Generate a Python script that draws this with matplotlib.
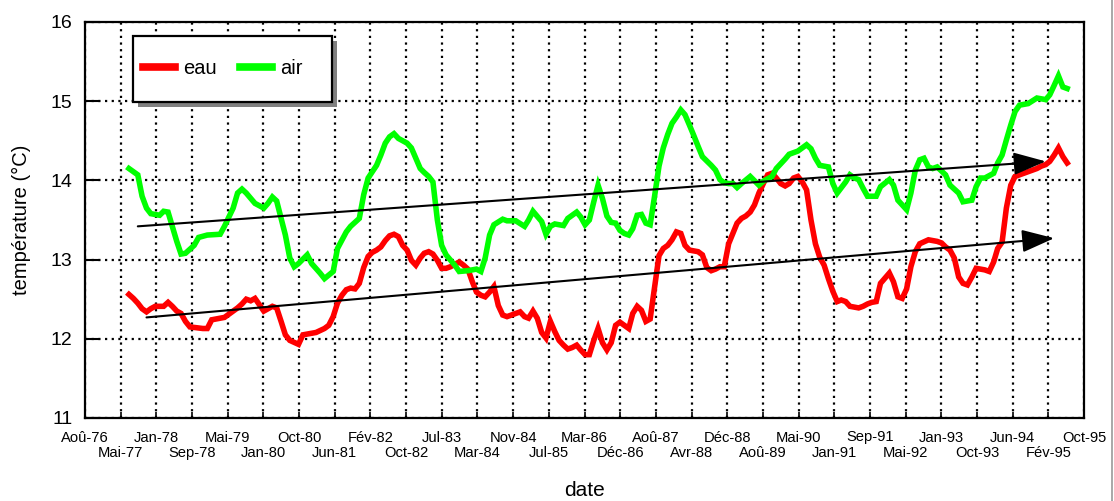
import datetime as dt
import matplotlib
matplotlib.use("Agg")
import matplotlib.pyplot as plt
import matplotlib.dates as mdates
from matplotlib.lines import Line2D
from matplotlib.patches import Rectangle
import pandas as pd

plt.rcParams['font.family'] = ['Liberation Sans', 'DejaVu Sans']

tick_labels = ["Aoû-76", "Mai-77", "Jan-78", "Sep-78", "Mai-79", "Jan-80", "Oct-80",
               "Jun-81", "Fév-82", "Oct-82", "Jul-83", "Mar-84", "Nov-84", "Jul-85",
               "Mar-86", "Déc-86", "Aoû-87", "Avr-88", "Déc-88", "Aoû-89", "Mai-90",
               "Jan-91", "Sep-91", "Mai-92", "Jan-93", "Oct-93", "Jun-94", "Fév-95",
               "Oct-95"]

# months counted from January 1977
air_months = [6, 8, 9, 10, 11, 13, 14, 15, 16, 17, 18, 19, 21, 22, 24, 27, 28, 30, 31, 32,
              33, 35, 37, 38, 39, 40, 41, 42, 43, 44, 45, 47, 48, 50, 51, 53, 54, 56, 57, 59,
              60, 61, 63, 64, 65, 66, 67, 68, 70, 71, 72, 73, 74, 75, 76, 77, 78, 79, 81, 82,
              84, 86, 87, 88, 89, 90, 92, 93, 95, 97, 98, 99, 101, 102, 103, 104, 106, 107, 109, 110,
              111, 112, 113, 114, 115, 116, 117, 118, 119, 120, 121, 122, 123, 124, 125, 126, 127, 128, 129, 130,
              131, 132, 133, 134, 135, 136, 137, 138, 140, 141, 142, 143, 144, 145, 146, 147, 149, 151, 152, 154,
              155, 157, 158, 160, 162, 163, 164, 165, 167, 168, 169, 171, 172, 173, 174, 175, 176, 178, 179, 181,
              182, 183, 185, 186, 187, 188, 189, 190, 191, 192, 194, 195, 197, 198, 200, 201, 202, 203, 205, 206,
              207, 208, 209, 210, 211, 213, 215, 217, 218, 219, 220, 221, 222]
air_values = [14.15, 14.07, 13.80, 13.65, 13.58, 13.56, 13.61, 13.60, 13.42, 13.23, 13.07, 13.08, 13.18, 13.28, 13.31, 13.32, 13.42, 13.65, 13.84, 13.89,
              13.84, 13.71, 13.65, 13.71, 13.79, 13.74, 13.52, 13.31, 13.02, 12.91, 12.95, 13.06, 12.95, 12.83, 12.76, 12.85, 13.14, 13.35, 13.42, 13.52,
              13.82, 14.03, 14.19, 14.32, 14.47, 14.55, 14.59, 14.53, 14.47, 14.41, 14.28, 14.15, 14.10, 14.05, 13.98, 13.50, 13.18, 13.06, 12.93, 12.85,
              12.86, 12.88, 12.85, 13.02, 13.31, 13.44, 13.51, 13.49, 13.49, 13.42, 13.50, 13.61, 13.48, 13.32, 13.42, 13.45, 13.43, 13.52, 13.60, 13.54,
              13.44, 13.50, 13.73, 13.94, 13.77, 13.55, 13.47, 13.46, 13.37, 13.33, 13.31, 13.39, 13.56, 13.57, 13.46, 13.44, 13.80, 14.18, 14.41, 14.58,
              14.72, 14.80, 14.89, 14.83, 14.70, 14.57, 14.43, 14.30, 14.19, 14.13, 14.01, 13.97, 13.96, 13.96, 13.91, 13.96, 14.05, 13.94, 13.99, 14.05,
              14.15, 14.27, 14.33, 14.37, 14.45, 14.40, 14.28, 14.19, 14.17, 13.96, 13.84, 13.98, 14.07, 14.03, 14.01, 13.90, 13.80, 13.80, 13.92, 14.01,
              13.94, 13.75, 13.63, 13.84, 14.13, 14.26, 14.28, 14.17, 14.15, 14.17, 14.07, 13.94, 13.84, 13.73, 13.75, 13.92, 14.03, 14.03, 14.09, 14.22,
              14.32, 14.51, 14.70, 14.87, 14.95, 14.97, 15.04, 15.02, 15.08, 15.20, 15.32, 15.18, 15.16]

eau_months = [6, 7, 8, 9, 10, 11, 12, 13, 14, 15, 16, 17, 18, 19, 20, 23, 24, 25, 26, 27,
              28, 29, 31, 32, 33, 34, 35, 36, 37, 39, 40, 41, 42, 43, 45, 46, 48, 49, 51, 52,
              53, 54, 55, 56, 57, 58, 59, 60, 61, 62, 63, 64, 65, 66, 67, 68, 69, 70, 71, 72,
              73, 74, 75, 76, 77, 78, 79, 80, 81, 82, 83, 84, 85, 86, 87, 88, 89, 90, 91, 92,
              93, 94, 96, 97, 98, 99, 100, 101, 102, 103, 104, 105, 106, 107, 108, 109, 110, 111, 112, 113,
              114, 115, 116, 117, 118, 119, 121, 122, 123, 124, 125, 126, 127, 128, 129, 130, 131, 132, 133, 134,
              135, 137, 138, 139, 140, 141, 142, 143, 144, 146, 147, 148, 149, 150, 151, 152, 153, 154, 155, 156,
              157, 158, 159, 160, 161, 162, 163, 164, 165, 166, 167, 168, 169, 170, 171, 172, 173, 174, 175, 176,
              177, 178, 179, 181, 182, 183, 184, 185, 186, 187, 188, 190, 191, 192, 193, 194, 195, 196, 197, 198,
              199, 200, 201, 202, 203, 204, 205, 206, 207, 208, 209, 210, 212, 213, 215, 216, 217, 218, 219, 220,
              221, 222]
eau_values = [12.56, 12.51, 12.45, 12.38, 12.34, 12.38, 12.41, 12.41, 12.41, 12.46, 12.41, 12.35, 12.32, 12.22, 12.15, 12.13, 12.13, 12.24, 12.25, 12.26,
              12.27, 12.31, 12.39, 12.44, 12.50, 12.48, 12.51, 12.43, 12.35, 12.41, 12.39, 12.22, 12.05, 11.98, 11.93, 12.05, 12.07, 12.08, 12.13, 12.17,
              12.28, 12.45, 12.55, 12.62, 12.64, 12.63, 12.70, 12.90, 13.04, 13.09, 13.12, 13.16, 13.24, 13.30, 13.32, 13.29, 13.18, 13.12, 12.99, 12.93,
              13.02, 13.08, 13.10, 13.07, 12.99, 12.89, 12.89, 12.91, 12.94, 12.97, 12.93, 12.88, 12.72, 12.59, 12.55, 12.53, 12.59, 12.66, 12.42, 12.30,
              12.28, 12.30, 12.34, 12.28, 12.26, 12.35, 12.26, 12.08, 12.01, 12.22, 12.09, 11.98, 11.92, 11.87, 11.89, 11.92, 11.86, 11.80, 11.80, 11.98,
              12.13, 11.95, 11.86, 11.95, 12.17, 12.21, 12.13, 12.32, 12.41, 12.36, 12.22, 12.25, 12.65, 13.05, 13.14, 13.18, 13.25, 13.35, 13.33, 13.18,
              13.12, 13.10, 13.06, 12.90, 12.86, 12.88, 12.91, 12.91, 13.20, 13.46, 13.52, 13.55, 13.60, 13.69, 13.84, 13.96, 14.07, 14.09, 14.03, 13.96,
              13.93, 13.96, 14.03, 14.05, 13.98, 13.88, 13.50, 13.20, 13.03, 12.93, 12.76, 12.60, 12.47, 12.49, 12.47, 12.41, 12.40, 12.39, 12.41, 12.44,
              12.46, 12.47, 12.70, 12.83, 12.72, 12.53, 12.51, 12.63, 12.91, 13.10, 13.20, 13.25, 13.24, 13.23, 13.21, 13.16, 13.12, 13.02, 12.78, 12.70,
              12.68, 12.78, 12.89, 12.88, 12.87, 12.85, 12.97, 13.14, 13.22, 13.65, 13.94, 14.05, 14.09, 14.11, 14.15, 14.18, 14.20, 14.24, 14.32, 14.41,
              14.30, 14.22]

trend_air_months = [8, 217]
trend_air_values = [13.42, 14.24]
trend_eau_months = [10, 219]
trend_eau_values = [12.27, 13.27]


def to_num(months):
    base = pd.Timestamp("1977-01-01")
    return mdates.date2num([(base + pd.DateOffset(months=int(m))).to_pydatetime() for m in months])


axis_start = mdates.date2num(dt.datetime(1976, 8, 27))
tick_step = 250.0
tick_pos = [axis_start + tick_step * k for k in range(len(tick_labels))]

W, H = 1114, 501
fig = plt.figure(figsize=(W / 100, H / 100), dpi=100)
ax = fig.add_axes([85 / W, 1 - 418 / H, 999 / W, 396 / H])

ax.plot(to_num(eau_months), eau_values, color="#ff0000", lw=4.0, solid_joinstyle="miter", label="eau", zorder=3)
ax.plot(to_num(air_months), air_values, color="#00ff00", lw=4.0, solid_joinstyle="miter", label="air", zorder=3)

for tm, tv in ((trend_air_months, trend_air_values), (trend_eau_months, trend_eau_values)):
    xs = to_num(tm)
    ax.annotate("", xy=(xs[1], tv[1]), xytext=(xs[0], tv[0]),
                arrowprops=dict(arrowstyle="-|>,head_length=2.0,head_width=0.7",
                                mutation_scale=10, color="black", lw=1.5,
                                shrinkA=0, shrinkB=0), zorder=4)

ax.set_xlim(tick_pos[0], tick_pos[-1])
ax.set_ylim(11, 16)
ax.set_yticks([11, 12, 13, 14, 15, 16])

ax.set_xticks(tick_pos[0::2])
ax.set_xticklabels(tick_labels[0::2])
ax.set_xticks(tick_pos[1::2], minor=True)
ax.set_xticklabels(tick_labels[1::2], minor=True)

ax.tick_params(axis="x", which="major", direction="in", length=4, width=1.2,
               labelsize=10.6, pad=9)
ax.tick_params(axis="x", which="minor", direction="in", length=4, width=1.2,
               labelsize=10.6, pad=20)
ax.tick_params(axis="y", direction="in", length=11, width=1.5, labelsize=14, pad=9)

ax.grid(True, which="both", axis="x", color="black", linestyle=(0, (1.0, 2.0)), lw=1.6)
ax.grid(True, which="major", axis="y", color="black", linestyle=(0, (1.0, 2.0)), lw=1.6)
ax.set_axisbelow(True)

for s in ax.spines.values():
    s.set_linewidth(1.6)
    s.set_color("black")

ax.set_ylabel("température (°C)", fontsize=14.5, labelpad=14)
ax.set_xlabel("date", fontsize=15, labelpad=15)

# legend box with shadow (pixel layout of the reference)
def ax_x(px):
    return (px - 85) / 999


def ax_y(py):
    return (418 - py) / 396


ax.add_patch(Rectangle((ax_x(138), ax_y(107)), ax_x(337) - ax_x(138), ax_y(41) - ax_y(107),
                       transform=ax.transAxes, facecolor="#808080", edgecolor="none", zorder=5))
ax.add_patch(Rectangle((ax_x(133), ax_y(102)), ax_x(332) - ax_x(133), ax_y(36) - ax_y(102),
                       transform=ax.transAxes, facecolor="white", edgecolor="black", lw=1.6, zorder=6))
leg = ax.legend(loc="center left", bbox_to_anchor=(ax_x(143), ax_y(69)), borderaxespad=0,
                ncol=2, fontsize=14.5, handlelength=1.6, handletextpad=0.4,
                columnspacing=1.15, borderpad=0, frameon=False)
leg.set_zorder(7)
for h in leg.get_lines():
    h.set_linewidth(5.5)

fig.add_artist(Line2D([1112 / W, 1112 / W], [0, 1], color="#9a9a9a", lw=1.2))

fig.savefig("out.png", dpi=100)
